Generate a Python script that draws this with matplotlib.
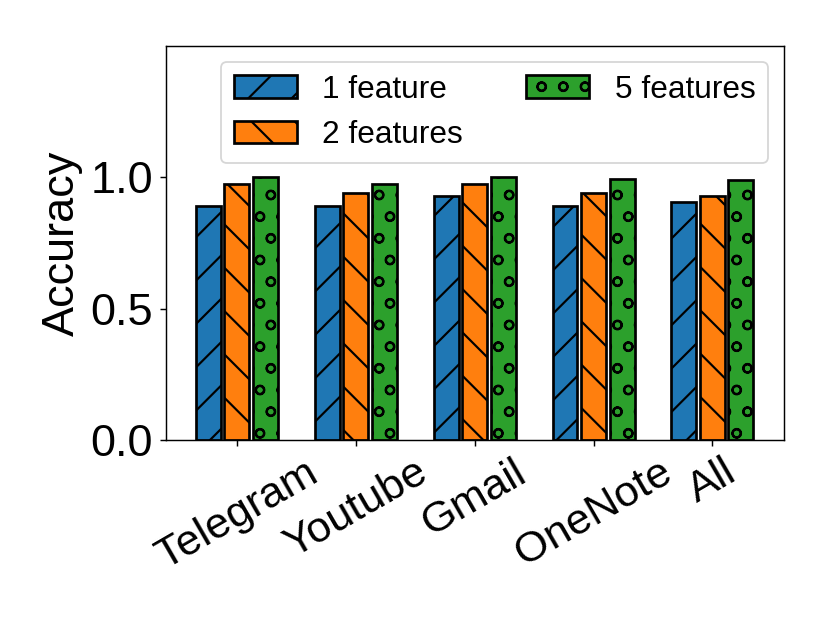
import numpy as np
import matplotlib.pyplot as plt

plt.rcParams['font.family'] = ['Liberation Sans', 'DejaVu Sans']
plt.rcParams['hatch.linewidth'] = 1.2

apps = ["Telegram", "Youtube", "Gmail", "OneNote", "All"]
one_feature = [0.89, 0.89, 0.93, 0.89, 0.905]
two_features = [0.975, 0.94, 0.975, 0.94, 0.928]
five_features = [1.0, 0.975, 1.0, 0.995, 0.99]

x = np.arange(len(apps))
w = 0.21

fig = plt.figure(figsize=(6.4, 4.8), dpi=130)
ax = fig.add_axes([0.199, 0.295, 0.743, 0.631])
ax.bar(x - 0.24, one_feature, w, color="#1f77b4", edgecolor="black", linewidth=1.5, hatch="/", label="1 feature")
ax.bar(x, two_features, w, color="#ff7f0e", edgecolor="black", linewidth=1.5, hatch="\\", label="2 features")
ax.bar(x + 0.24, five_features, w, color="#2ca02c", edgecolor="black", linewidth=1.5, hatch="o", label="5 features")

ax.set_xlim(-0.6, 4.6)
ax.set_ylim(0, 1.5)
ax.set_yticks([0.0, 0.5, 1.0])
ax.set_xticks(x)
ax.set_xticklabels(apps, rotation=30)
ax.tick_params(axis="y", labelsize=25)
ax.tick_params(axis="x", labelsize=24)
ax.set_ylabel("Accuracy", fontsize=25)
ax.legend(ncol=2, fontsize=17.5, loc="upper right")

plt.savefig("out.png", dpi=130)
